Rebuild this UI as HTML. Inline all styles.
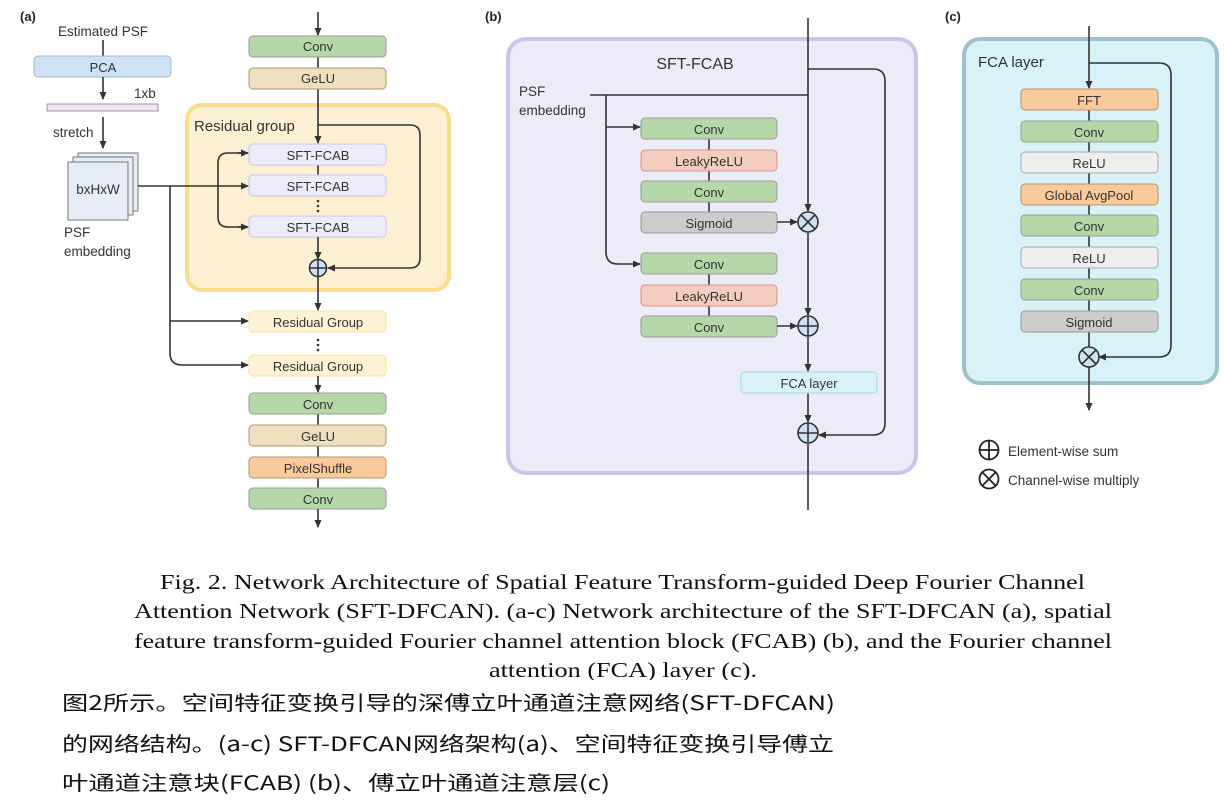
<!DOCTYPE html>
<html><head><meta charset="utf-8"><style>
html,body{margin:0;padding:0;background:#fff;}
svg{display:block;font-family:"Liberation Sans",Arial,sans-serif;}
.l{stroke:#333;stroke-width:1.6;fill:none;}
.t{font-size:13px;fill:#333;text-anchor:middle;}
.lb{font-size:13.5px;fill:#333;}
</style></head><body>
<svg width="1225" height="803" viewBox="0 0 1225 803" xmlns="http://www.w3.org/2000/svg">
<defs>
<marker id="a" markerWidth="8" markerHeight="8" refX="7" refY="4" orient="auto" markerUnits="userSpaceOnUse"><path d="M0,0.5 L8,4 L0,7.5 Z" fill="#333"/></marker>
</defs>
<rect width="1225" height="803" fill="#fff"/>

<!-- Panel a -->
<text x="20" y="21" font-size="13" font-weight="bold" fill="#222">(a)</text>
<text x="103" y="36" class="t" style="font-size:13.5px">Estimated PSF</text>
<line x1="103" y1="40" x2="103" y2="56" class="l"/>
<rect x="34" y="56" width="137" height="21" rx="4" fill="#cfe2f3" stroke="#a3b8cc"/>
<text x="103" y="72" class="t">PCA</text>
<line x1="103" y1="77" x2="103" y2="99" class="l" marker-end="url(#a)"/>
<text x="134" y="98" class="lb">1xb</text>
<rect x="47" y="104" width="111" height="7" fill="#f2e4f2" stroke="#999"/>
<text x="53" y="137" class="lb">stretch</text>
<line x1="103" y1="117" x2="103" y2="148" class="l" marker-end="url(#a)"/>
<rect x="78" y="153" width="60" height="58" fill="#e6edf7" stroke="#777"/>
<rect x="73" y="157" width="60" height="58" fill="#e6edf7" stroke="#777"/>
<rect x="68" y="162" width="60" height="58" fill="#e6edf7" stroke="#777"/>
<text x="98" y="194" class="t" style="font-size:13.5px">bxHxW</text>
<text x="64" y="237" class="lb">PSF</text>
<text x="64" y="256" class="lb">embedding</text>

<rect x="187" y="105" width="262" height="185" rx="15" fill="#fdefd2" stroke="#fbdc8c" stroke-width="4"/>
<text x="194" y="131" style="font-size:15px" fill="#333">Residual group</text>

<line x1="318" y1="12" x2="318" y2="35" class="l" marker-end="url(#a)"/>
<line x1="318" y1="57" x2="318" y2="143" class="l" marker-end="url(#a)"/>
<rect x="249" y="36" width="137" height="21" rx="4" fill="#b6d7a8" stroke="#9a9a9a"/>
<text x="318" y="51" class="t">Conv</text>
<rect x="249" y="68" width="137" height="21" rx="4" fill="#eee0bf" stroke="#a89870"/>
<text x="318" y="83" class="t">GeLU</text>
<path d="M318,125 H410 Q420,125 420,135 V258 Q420,268 410,268 H328" class="l" marker-end="url(#a)"/>
<line x1="318" y1="165" x2="318" y2="175" class="l"/>
<rect x="249" y="144" width="137" height="21" rx="4" fill="#ececfa" stroke="#c6c6ee"/>
<text x="318" y="160" class="t">SFT-FCAB</text>
<rect x="249" y="175" width="137" height="21" rx="4" fill="#ececfa" stroke="#c6c6ee"/>
<text x="318" y="191" class="t">SFT-FCAB</text>
<circle cx="318" cy="201" r="1.3" fill="#333"/><circle cx="318" cy="206" r="1.3" fill="#333"/><circle cx="318" cy="211" r="1.3" fill="#333"/>
<rect x="249" y="216" width="137" height="21" rx="4" fill="#ececfa" stroke="#c6c6ee"/>
<text x="318" y="232" class="t">SFT-FCAB</text>
<line x1="318" y1="237" x2="318" y2="259" class="l" marker-end="url(#a)"/>
<circle cx="318" cy="268" r="8.5" fill="#cfe2f3" stroke="#333" stroke-width="1.6"/>
<line x1="309.5" y1="268" x2="326.5" y2="268" class="l"/><line x1="318" y1="259.5" x2="318" y2="276.5" class="l"/>

<line x1="138" y1="186" x2="248" y2="186" class="l" marker-end="url(#a)"/>
<path d="M248,153 H228 Q218,153 218,163 V217 Q218,227 228,227 H248" class="l"/>
<line x1="238" y1="153" x2="248" y2="153" class="l" marker-end="url(#a)"/>
<line x1="238" y1="227" x2="248" y2="227" class="l" marker-end="url(#a)"/>
<path d="M170,186 V353 Q170,365 182,365 H248" class="l" marker-end="url(#a)"/>
<line x1="170" y1="321" x2="248" y2="321" class="l" marker-end="url(#a)"/>

<line x1="318" y1="276" x2="318" y2="310" class="l" marker-end="url(#a)"/>
<rect x="249" y="311" width="137" height="21" rx="4" fill="#fdf1d6" stroke="#fbe1a0"/>
<text x="318" y="327" class="t">Residual Group</text>
<circle cx="318" cy="340" r="1.3" fill="#333"/><circle cx="318" cy="345" r="1.3" fill="#333"/><circle cx="318" cy="350" r="1.3" fill="#333"/>
<rect x="249" y="355" width="137" height="21" rx="4" fill="#fdf1d6" stroke="#fbe1a0"/>
<text x="318" y="371" class="t">Residual Group</text>
<line x1="318" y1="376" x2="318" y2="392" class="l" marker-end="url(#a)"/>
<line x1="318" y1="414" x2="318" y2="488" class="l"/>
<rect x="249" y="393" width="137" height="21" rx="4" fill="#b6d7a8" stroke="#9a9a9a"/>
<text x="318" y="409" class="t">Conv</text>
<rect x="249" y="425" width="137" height="21" rx="4" fill="#eee0bf" stroke="#a89870"/>
<text x="318" y="441" class="t">GeLU</text>
<rect x="249" y="457" width="137" height="21" rx="4" fill="#f9cb9c" stroke="#b89070"/>
<text x="318" y="473" class="t">PixelShuffle</text>
<rect x="249" y="488" width="137" height="21" rx="4" fill="#b6d7a8" stroke="#9a9a9a"/>
<text x="318" y="504" class="t">Conv</text>
<line x1="318" y1="509" x2="318" y2="527" class="l" marker-end="url(#a)"/>

<!-- Panel b -->
<text x="485" y="21" font-size="13" font-weight="bold" fill="#222">(b)</text>
<rect x="508" y="39" width="408" height="434" rx="18" fill="#ecebf8" stroke="#cac5ec" stroke-width="4"/>
<text x="695" y="69" class="t" style="font-size:16px">SFT-FCAB</text>
<text x="519" y="96" class="lb">PSF</text>
<text x="519" y="115" class="lb">embedding</text>
<path d="M808,69 H873 Q885,69 885,81 V423 Q885,435 873,435 H819" class="l" marker-end="url(#a)"/>
<line x1="590" y1="95" x2="808" y2="95" class="l"/>
<path d="M606,95 V252 Q606,264 618,264 H640" class="l" marker-end="url(#a)"/>
<line x1="606" y1="127" x2="640" y2="127" class="l" marker-end="url(#a)"/>
<line x1="808" y1="18" x2="808" y2="211" class="l" marker-end="url(#a)"/>
<line x1="808" y1="233" x2="808" y2="315" class="l" marker-end="url(#a)"/>
<line x1="808" y1="337" x2="808" y2="371" class="l" marker-end="url(#a)"/>
<line x1="808" y1="393" x2="808" y2="422" class="l" marker-end="url(#a)"/>
<line x1="808" y1="444" x2="808" y2="510" class="l"/>
<line x1="709" y1="139" x2="709" y2="212" class="l"/>
<line x1="709" y1="274" x2="709" y2="316" class="l"/>
<rect x="641" y="118" width="136" height="21" rx="4" fill="#b6d7a8" stroke="#9a9a9a"/>
<text x="709" y="134" class="t">Conv</text>
<rect x="641" y="150" width="136" height="21" rx="4" fill="#f4cdc0" stroke="#d09585"/>
<text x="709" y="166" class="t">LeakyReLU</text>
<rect x="641" y="181" width="136" height="21" rx="4" fill="#b6d7a8" stroke="#9a9a9a"/>
<text x="709" y="197" class="t">Conv</text>
<rect x="641" y="212" width="136" height="21" rx="4" fill="#cccccc" stroke="#999"/>
<text x="709" y="228" class="t">Sigmoid</text>
<rect x="641" y="253" width="136" height="21" rx="4" fill="#b6d7a8" stroke="#9a9a9a"/>
<text x="709" y="269" class="t">Conv</text>
<rect x="641" y="285" width="136" height="21" rx="4" fill="#f4cdc0" stroke="#d09585"/>
<text x="709" y="301" class="t">LeakyReLU</text>
<rect x="641" y="316" width="136" height="21" rx="4" fill="#b6d7a8" stroke="#9a9a9a"/>
<text x="709" y="332" class="t">Conv</text>
<line x1="777" y1="222" x2="797" y2="222" class="l" marker-end="url(#a)"/>
<line x1="777" y1="326" x2="797" y2="326" class="l" marker-end="url(#a)"/>
<circle cx="808" cy="222" r="10" fill="#cfe2f3" stroke="#333" stroke-width="1.6"/>
<line x1="801" y1="215" x2="815" y2="229" class="l"/><line x1="815" y1="215" x2="801" y2="229" class="l"/>
<circle cx="808" cy="326" r="10" fill="#cfe2f3" stroke="#333" stroke-width="1.6"/>
<line x1="798" y1="326" x2="818" y2="326" class="l"/><line x1="808" y1="316" x2="808" y2="336" class="l"/>
<rect x="741" y="372" width="136" height="21" rx="4" fill="#d9f2f8" stroke="#a6d6df"/>
<text x="809" y="388" class="t">FCA layer</text>
<circle cx="808" cy="433" r="10" fill="#cfe2f3" stroke="#333" stroke-width="1.6"/>
<line x1="798" y1="433" x2="818" y2="433" class="l"/><line x1="808" y1="423" x2="808" y2="443" class="l"/>

<!-- Panel c -->
<text x="945" y="21" font-size="13" font-weight="bold" fill="#222">(c)</text>
<rect x="964" y="39" width="253" height="344" rx="16" fill="#d9f2f8" stroke="#9cc3cb" stroke-width="4"/>
<text x="978" y="67" style="font-size:15px" fill="#333">FCA layer</text>
<line x1="1089" y1="26" x2="1089" y2="88" class="l" marker-end="url(#a)"/>
<path d="M1089,63 H1159 Q1171,63 1171,75 V345 Q1171,357 1159,357 H1099" class="l" marker-end="url(#a)"/>
<line x1="1089" y1="110" x2="1089" y2="348" class="l"/>
<rect x="1021" y="89" width="137" height="21" rx="4" fill="#f9cb9c" stroke="#b89070"/>
<text x="1089" y="105" class="t">FFT</text>
<rect x="1021" y="121" width="137" height="21" rx="4" fill="#b6d7a8" stroke="#9a9a9a"/>
<text x="1089" y="137" class="t">Conv</text>
<rect x="1021" y="152" width="137" height="21" rx="4" fill="#eeeeee" stroke="#aaa"/>
<text x="1089" y="168" class="t">ReLU</text>
<rect x="1021" y="184" width="137" height="21" rx="4" fill="#f9cb9c" stroke="#b89070"/>
<text x="1089" y="200" class="t">Global AvgPool</text>
<rect x="1021" y="215" width="137" height="21" rx="4" fill="#b6d7a8" stroke="#9a9a9a"/>
<text x="1089" y="231" class="t">Conv</text>
<rect x="1021" y="247" width="137" height="21" rx="4" fill="#eeeeee" stroke="#aaa"/>
<text x="1089" y="263" class="t">ReLU</text>
<rect x="1021" y="279" width="137" height="21" rx="4" fill="#b6d7a8" stroke="#9a9a9a"/>
<text x="1089" y="295" class="t">Conv</text>
<rect x="1021" y="311" width="137" height="21" rx="4" fill="#cccccc" stroke="#999"/>
<text x="1089" y="327" class="t">Sigmoid</text>
<circle cx="1089" cy="357" r="10" fill="#cfe2f3" stroke="#333" stroke-width="1.6"/>
<line x1="1082" y1="350" x2="1096" y2="364" class="l"/><line x1="1096" y1="350" x2="1082" y2="364" class="l"/>
<line x1="1089" y1="367" x2="1089" y2="410" class="l" marker-end="url(#a)"/>

<circle cx="989" cy="450" r="9.5" fill="#fff" stroke="#222" stroke-width="1.8"/>
<line x1="979.5" y1="450" x2="998.5" y2="450" stroke="#222" stroke-width="1.8"/><line x1="989" y1="440.5" x2="989" y2="459.5" stroke="#222" stroke-width="1.8"/>
<text x="1008" y="456" class="lb">Element-wise sum</text>
<circle cx="989" cy="479" r="9.5" fill="#fff" stroke="#222" stroke-width="1.8"/>
<line x1="982.3" y1="472.3" x2="995.7" y2="485.7" stroke="#222" stroke-width="1.8"/><line x1="995.7" y1="472.3" x2="982.3" y2="485.7" stroke="#222" stroke-width="1.8"/>
<text x="1008" y="485" class="lb">Channel-wise multiply</text>

<g font-family="'Liberation Serif','Times New Roman',serif" font-size="21" fill="#111">
<text x="160" y="589" textLength="925" lengthAdjust="spacingAndGlyphs">Fig. 2. Network Architecture of Spatial Feature Transform-guided Deep Fourier Channel</text>
<text x="134" y="618" textLength="978" lengthAdjust="spacingAndGlyphs">Attention Network (SFT-DFCAN). (a-c) Network architecture of the SFT-DFCAN (a), spatial</text>
<text x="134" y="648" textLength="978" lengthAdjust="spacingAndGlyphs">feature transform-guided Fourier channel attention block (FCAB) (b), and the Fourier channel</text>
<text x="489" y="677" textLength="268" lengthAdjust="spacingAndGlyphs">attention (FCA) layer (c).</text>
</g>
<rect x="0" y="680" width="1225" height="123" fill="#fff"/>
<g font-family="'Noto Sans CJK SC',sans-serif" font-size="20" fill="#111">
<text x="62" y="710" textLength="773" lengthAdjust="spacingAndGlyphs">图2所示。空间特征变换引导的深傅立叶通道注意网络(SFT-DFCAN)</text>
<text x="62" y="751" textLength="772" lengthAdjust="spacingAndGlyphs">的网络结构。(a-c) SFT-DFCAN网络架构(a)、空间特征变换引导傅立</text>
<text x="62" y="790" textLength="548" lengthAdjust="spacingAndGlyphs">叶通道注意块(FCAB) (b)、傅立叶通道注意层(c)</text>
</g>
</svg>
</body></html>
